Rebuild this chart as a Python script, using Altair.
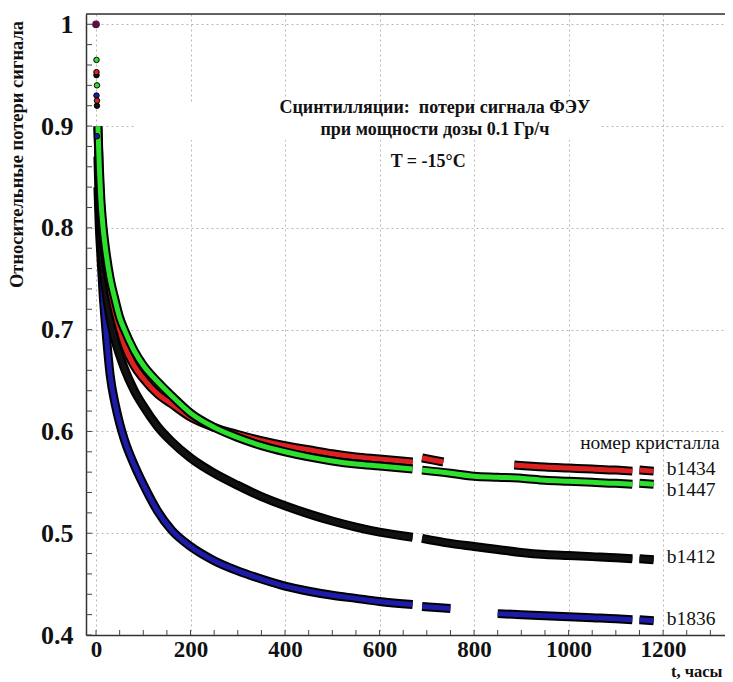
import altair as alt
import pandas as pd

# ---- data (t in hours, relative signal) ----
# segments separated by data gaps
b1447_t = [[0, 1, 2, 4, 7, 10, 15, 20, 30, 40, 50, 60, 80, 100, 130, 160, 200, 250, 300, 350, 400, 450, 500, 550, 600, 670],
           [690, 750, 800, 850, 900, 950, 1000, 1050, 1100, 1135],
           [1150, 1180]]
b1447_v = [[1.0, 0.965, 0.94, 0.90, 0.86, 0.83, 0.80, 0.78, 0.75, 0.73, 0.712, 0.70, 0.68, 0.665, 0.649, 0.635, 0.618, 0.604, 0.594, 0.586, 0.580, 0.575, 0.571, 0.568, 0.566, 0.563],
           [0.562, 0.559, 0.556, 0.555, 0.554, 0.552, 0.551, 0.550, 0.549, 0.548],
           [0.549, 0.548]]

b1434_t = [[0, 1, 2, 4, 7, 10, 15, 20, 30, 40, 50, 60, 80, 100, 130, 160, 200, 250, 300, 350, 400, 450, 500, 550, 600, 670],
           [690, 712, 735],
           [885, 950, 1000, 1050, 1100, 1135],
           [1150, 1180]]
b1434_v = [[1.0, 0.953, 0.925, 0.899, 0.85, 0.82, 0.79, 0.77, 0.74, 0.718, 0.70, 0.685, 0.665, 0.652, 0.637, 0.627, 0.614, 0.604, 0.597, 0.591, 0.586, 0.582, 0.578, 0.575, 0.573, 0.570],
           [0.574, 0.572, 0.570],
           [0.567, 0.565, 0.564, 0.563, 0.562, 0.561],
           [0.562, 0.561]]

b1412_t = [[0, 1, 2, 4, 7, 10, 15, 20, 30, 40, 50, 60, 80, 100, 130, 160, 200, 250, 300, 350, 400, 450, 500, 550, 600, 670],
           [690, 750, 800, 850, 900, 950, 1000, 1050, 1100, 1135],
           [1150, 1180]]
b1412_v = [[1.0, 0.95, 0.92, 0.87, 0.82, 0.79, 0.76, 0.74, 0.71, 0.69, 0.675, 0.662, 0.641, 0.625, 0.605, 0.590, 0.574, 0.559, 0.547, 0.536, 0.527, 0.519, 0.512, 0.506, 0.501, 0.496],
           [0.495, 0.490, 0.487, 0.484, 0.481, 0.479, 0.478, 0.477, 0.476, 0.475],
           [0.475, 0.474]]

b1836_t = [[0, 1, 2, 4, 7, 10, 15, 20, 30, 40, 50, 60, 80, 100, 130, 160, 200, 250, 300, 350, 400, 450, 500, 550, 600, 670],
           [690, 720, 750],
           [850, 900, 950, 1000, 1050, 1100, 1135],
           [1150, 1180]]
b1836_v = [[1.0, 0.93, 0.89, 0.84, 0.80, 0.775, 0.735, 0.705, 0.655, 0.628, 0.608, 0.592, 0.568, 0.548, 0.522, 0.503, 0.487, 0.473, 0.463, 0.455, 0.448, 0.443, 0.439, 0.436, 0.433, 0.430],
           [0.428, 0.427, 0.426],
           [0.421, 0.420, 0.419, 0.418, 0.417, 0.416, 0.415],
           [0.415, 0.414]]

series_names = ["b1836", "b1412", "b1434", "b1447"]
series_colors = ["#1c1ca8", "#111111", "#dd2020", "#2ee02e"]
series_t = [b1836_t, b1412_t, b1434_t, b1447_t]
series_v = [b1836_v, b1412_v, b1434_v, b1447_v]

label_names = ["b1434", "b1447", "b1412", "b1836"]
label_v = [0.563, 0.5424, 0.4766, 0.4157]

x_ticks = [0, 200, 400, 600, 800, 1000, 1200]
y_ticks = [0.4, 0.5, 0.6, 0.7, 0.8, 0.9, 1.0]
x_minor = list(range(0, 1331, 50))
y_minor = [round(0.40 + 0.02 * i, 2) for i in range(31)]

# ---- layout ----
W, H = 639, 621
XDOM = [-21.2, 1331]
YDOM = [0.4, 1.0101]
SERIF = "Liberation Serif"
FIRST_LINE_T = 4   # earlier readings are drawn as separate points

xs = alt.Scale(domain=XDOM, nice=False, zero=False)
ys = alt.Scale(domain=YDOM, nice=False, zero=False)

xax = alt.Axis(
    values=x_ticks, format="d", title="t, часы", grid=True, gridColor="#b8b8b8", gridDash=[2, 3],
    gridWidth=1, domainColor="#333", domainWidth=1.5, ticks=False,
    labelFont=SERIF, labelFontWeight="bold", labelFontSize=23, labelColor="#111",
    labelPadding=3, labelFlush=False,
    titleFont=SERIF, titleFontWeight="bold", titleFontSize=16.5, titleColor="#111",
    titleAnchor="end", titleAlign="right", titleX=636, titleY=36, titleBaseline="middle")
yax = alt.Axis(
    values=y_ticks, title="Относительные потери сигнала", grid=True, gridColor="#b8b8b8",
    gridDash=[2, 3], gridWidth=1, domainColor="#333", domainWidth=1.5, ticks=False,
    labelExpr="datum.value == 1 ? '1' : format(datum.value, '.1f')",
    labelFont=SERIF, labelFontWeight="bold", labelFontSize=26, labelColor="#111",
    labelPadding=13, labelFlush=False,
    titleFont=SERIF, titleFontWeight="bold", titleFontSize=18.5, titleColor="#111",
    titleX=-70, titleY=140, titleAngle=270, titleAlign="center", titleBaseline="middle")


def X(field="t"):
    return alt.X(f"{field}:Q", scale=xs, axis=xax)


def Y(field="v"):
    return alt.Y(f"{field}:Q", scale=ys, axis=yax)


rows = []
for name, tt, vv in zip(series_names, series_t, series_v):
    for si, (ts, vs) in enumerate(zip(tt, vv)):
        for t, v in zip(ts, vs):
            rows.append({"series": name, "seg": si, "t": t, "v": v})
df = pd.DataFrame(rows)

top_border = alt.Chart(pd.DataFrame({"a": [0]})).mark_rule(color="#333", strokeWidth=1.5).encode(
    x=alt.value(0), x2=alt.value(W), y=alt.value(0))

xminor_df = pd.DataFrame({"t": x_minor})
xminor = alt.Chart(xminor_df).mark_rule(color="#444", strokeWidth=1).encode(
    x=X(), y=alt.value(H), y2=alt.value(H - 5))

yminor_df = pd.DataFrame({"v": y_minor})
yminor = alt.Chart(yminor_df).mark_rule(color="#444", strokeWidth=1).encode(
    y=Y(), x=alt.value(0), x2=alt.value(6))

# white box behind the title text
box = alt.Chart(pd.DataFrame({"t": [85], "t2": [1067], "v": [0.9227], "v2": [0.8863]})).mark_rect(color="white").encode(
    x=X(), x2="t2:Q", y=Y(), y2="v2:Q")

layers = [box, xminor, yminor, top_border]
for name, col in zip(series_names, series_colors):
    d = df[(df.series == name) & (df.t >= FIRST_LINE_T)]
    edge = alt.Chart(d).mark_line(color="#000", strokeWidth=9, interpolate="monotone", strokeCap="butt").encode(
        x=X(), y=Y(), detail="seg:N", order="t:Q")
    core = alt.Chart(d).mark_line(color=col, strokeWidth=5, interpolate="monotone", strokeCap="butt").encode(
        x=X(), y=Y(), detail="seg:N", order="t:Q")
    layers += [edge, core]

early = df[(df.t < FIRST_LINE_T) & (df.t > 0)]
early_pts = alt.Chart(early).mark_point(
    shape="circle", filled=True, size=30, opacity=1, stroke="#000", strokeWidth=1).encode(
    x=X(), y=Y(),
    color=alt.Color("series:N", scale=alt.Scale(domain=series_names, range=series_colors), legend=None))
layers.append(early_pts)

# common starting reading (all crystals normalised to 1 at t = 0)
start = df[(df.t == 0) & (df.series == series_names[0])]
start_pt = alt.Chart(start).mark_point(
    shape="circle", filled=True, size=60, opacity=1, color="#5a1040").encode(x=X(), y=Y())
layers.append(start_pt)

title_df = pd.DataFrame({
    "t": [717, 717, 703],
    "v": [0.9178, 0.8962, 0.8646],
    "txt": ["Сцинтилляции:\u00a0\u00a0потери сигнала ФЭУ", "при мощности дозы 0.1 Гр/ч", "T = -15°C"],
})
titles = alt.Chart(title_df).mark_text(font=SERIF, fontWeight="bold", fontSize=18, color="#111", align="center", baseline="middle").encode(
    x=X(), y=Y(), text="txt:N")

hdr = alt.Chart(pd.DataFrame({"t": [1172], "v": [0.5886], "txt": ["номер кристалла"]})).mark_text(
    font=SERIF, fontSize=19.5, color="#111", align="center", baseline="middle").encode(
    x=X(), y=Y(), text="txt:N")

lab_df = pd.DataFrame({"t": [1208] * 4, "v": label_v, "txt": label_names})
labs = alt.Chart(lab_df).mark_text(font=SERIF, fontSize=19.5, color="#111", align="left", baseline="middle").encode(
    x=X(), y=Y(), text="txt:N")

layers += [titles, hdr, labs]

chart = alt.layer(*layers).properties(
    width=W, height=H, autosize=alt.AutoSizeParams(type="none"),
    padding={"left": 78, "top": 6, "right": 0, "bottom": 46},
).configure_view(stroke=None).configure(background="white")

chart.save("out.html", embed_options={"renderer": "svg", "actions": False})
